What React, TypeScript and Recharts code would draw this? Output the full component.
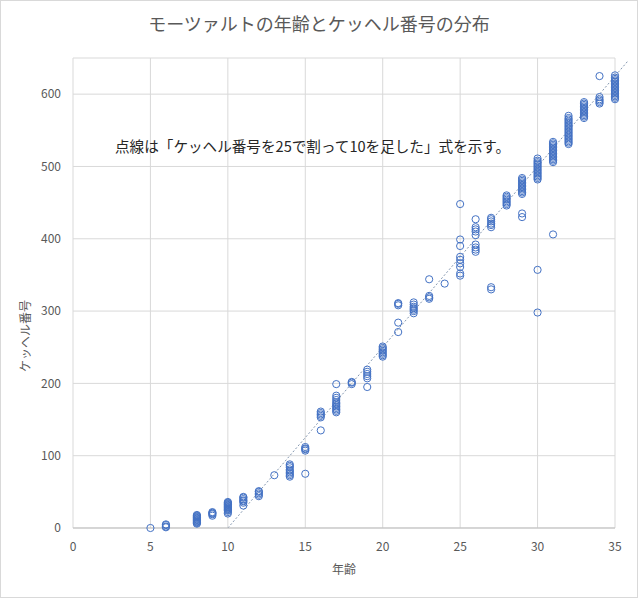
import React from "react";
import {
  ScatterChart,
  Scatter,
  XAxis,
  YAxis,
  CartesianGrid,
  ReferenceLine,
} from "recharts";

// Köchel numbers, grouped by Mozart's age
const k5 = [0];
const k6 = [1, 2, 4, 5];
const k8 = [6, 7, 8, 9, 10, 11, 12, 13, 14, 15, 16, 17, 18];
const k9 = [17, 19, 20, 21, 22];
const k10 = [20, 22, 24, 25, 26, 27, 28, 29, 30, 31, 32, 33, 34, 35, 36];
const k11 = [31, 35, 37, 38, 40, 42, 43];
const k12 = [44, 46, 48, 50, 51];
const k13 = [73];
const k14 = [71, 73, 75, 77, 79, 81, 84, 86, 88];
const k15 = [75, 107, 109, 110, 112];
const k16 = [135, 153, 155, 157, 159, 161];
const k17 = [160, 162, 164, 166, 168, 170, 172, 174, 177, 180, 183, 199];
const k18 = [199, 201, 202];
const k19 = [195, 207, 210, 213, 216, 219];
const k20 = [237, 239, 241, 243, 245, 247, 249, 251];
const k21 = [271, 284, 308, 310, 311];
const k22 = [297, 300, 302, 304, 306, 309, 312];
const k23 = [317, 319, 321, 344];
const k24 = [338];
const k25 = [349, 352, 361, 366, 371, 375, 390, 399, 448];
const k26 = [382, 385, 388, 392, 405, 410, 413, 416, 427];
const k27 = [330, 333, 416, 419, 421, 424, 427, 429];
const k28 = [446, 448, 450, 452, 454, 456, 458, 460];
const k29 = [430, 435, 462, 464, 466, 468, 470, 472, 474, 476, 478, 480, 482, 484];
const k30 = [298, 357, 482, 484, 486, 488, 490, 492, 494, 496, 498, 500, 502, 504, 506, 508, 511];
const k31 = [406, 506, 508, 510, 512, 514, 516, 518, 520, 522, 524, 526, 528, 530, 532, 534];
const k32 = [531, 533, 535, 537, 539, 541, 543, 545, 547, 549, 551, 553, 555, 557, 559, 561, 563, 565, 567, 570];
const k33 = [567, 569, 571, 573, 575, 577, 579, 581, 583, 585, 587, 589];
const k34 = [587, 589, 591, 593, 596, 625];
const k35 = [593, 595, 597, 599, 601, 603, 605, 607, 609, 611, 613, 615, 617, 619, 621, 623, 626];

const ages = [5, 6, 8, 9, 10, 11, 12, 13, 14, 15, 16, 17, 18, 19, 20, 21, 22, 23, 24, 25, 26, 27, 28, 29, 30, 31, 32, 33, 34, 35];
const kochelByAge = [k5, k6, k8, k9, k10, k11, k12, k13, k14, k15, k16, k17, k18, k19, k20, k21, k22, k23, k24, k25, k26, k27, k28, k29, k30, k31, k32, k33, k34, k35];

const ageTicks = [0, 5, 10, 15, 20, 25, 30, 35];
const kochelTicks = [0, 100, 200, 300, 400, 500, 600];

// dotted line: age = K / 25 + 10
const lineAges = [10, 35.85];

const data = ages.flatMap((age, i) => kochelByAge[i].map((k) => ({ age, k })));
const linePoints = lineAges.map((a) => ({ x: a, y: (a - 10) * 25 }));

const font = '"Noto Sans CJK JP", "Noto Sans", sans-serif';
const tickStyle = { fill: "#595959", fontSize: 12, fontFamily: font };

function Ring(props: any) {
  return (
    <circle cx={props.cx} cy={props.cy} r={3.6} fill="none" stroke="#4472C4" strokeWidth={1} />
  );
}

function YTitle(props: any) {
  const vb = props.viewBox;
  const x = vb.x + 23;
  const y = vb.y + vb.height / 2 + 43;
  return (
    <text
      x={x}
      y={y}
      transform={`rotate(-90 ${x} ${y})`}
      textAnchor="middle"
      dominantBaseline="central"
      fill="#595959"
      fontSize={12}
      fontFamily={font}
    >
      ケッヘル番号
    </text>
  );
}

export default function App() {
  return (
    <div
      style={{
        position: "absolute",
        left: 0,
        top: 0,
        width: 636,
        height: 596,
        border: "1px solid #d9d9d9",
        background: "#fff",
      }}
    >
      <div
        style={{
          position: "absolute",
          left: 0,
          top: 9,
          width: 636,
          textAlign: "center",
          fontFamily: font,
          fontSize: 18,
          color: "#595959",
        }}
      >
        モーツァルトの年齢とケッヘル番号の分布
      </div>
      <ScatterChart
        width={636}
        height={596}
        margin={{ top: 57, right: 22, left: 0, bottom: 0 }}
        style={{ position: "absolute", left: 0, top: 0 }}
      >
        <CartesianGrid stroke="#d9d9d9" strokeWidth={1} />
        <XAxis
          type="number"
          dataKey="age"
          domain={[0, 35]}
          ticks={ageTicks}
          interval={0}
          tickLine={false}
          axisLine={{ stroke: "#bfbfbf" }}
          tick={tickStyle}
          tickMargin={8}
          height={69}
          label={{
            value: "年齢",
            position: "insideBottom",
            offset: 23,
            fill: "#595959",
            fontSize: 12,
            fontFamily: font,
          }}
        />
        <YAxis
          type="number"
          dataKey="k"
          domain={[0, 650]}
          ticks={kochelTicks}
          interval={0}
          tickLine={false}
          axisLine={false}
          tick={tickStyle}
          tickMargin={6}
          width={72}
          label={<YTitle />}
        />
        <ReferenceLine
          segment={linePoints}
          ifOverflow="visible"
          stroke="#8497B0"
          strokeWidth={1}
          strokeDasharray="2 2"
        />
        <Scatter data={data} shape={<Ring />} isAnimationActive={false} />
      </ScatterChart>
      <div
        style={{
          position: "absolute",
          left: 114,
          top: 134,
          fontFamily: font,
          fontSize: 14.6,
          color: "#262626",
          whiteSpace: "nowrap",
        }}
      >
        点線は「ケッヘル番号を25で割って10を足した」式を示す。
      </div>
    </div>
  );
}
